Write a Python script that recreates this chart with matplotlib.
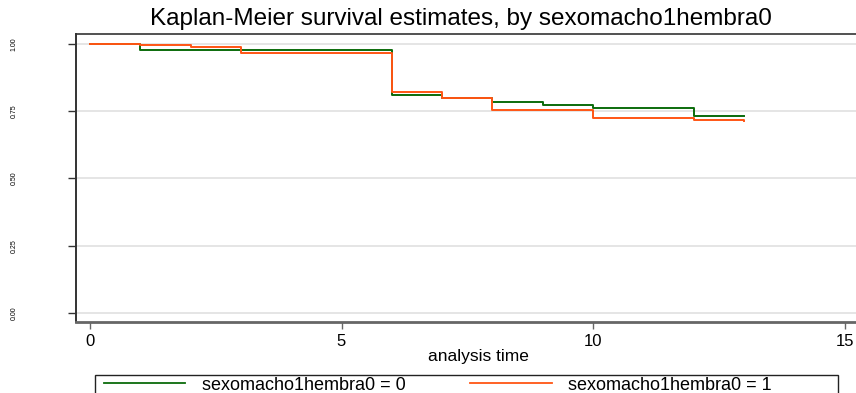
import matplotlib
matplotlib.use("Agg")
import matplotlib.pyplot as plt
from matplotlib.lines import Line2D
from matplotlib.patches import Rectangle

plt.rcParams['font.family'] = ['Liberation Sans', 'DejaVu Sans']

times_0 = [0, 1, 6, 7, 8, 9, 10, 12, 13]
surv_0 = [1.0, 0.978, 0.810, 0.800, 0.786, 0.773, 0.761, 0.734, 0.734]
times_1 = [0, 1, 2, 3, 6, 7, 8, 10, 12, 13]
surv_1 = [1.0, 0.995, 0.989, 0.965, 0.822, 0.800, 0.755, 0.724, 0.717, 0.712]
labels = ["sexomacho1hembra0 = 0", "sexomacho1hembra0 = 1"]
xticks = [0, 5, 10, 15]
yticks = [0.0, 0.25, 0.5, 0.75, 1.0]
yticklabels = ["0.00", "0.25", "0.50", "0.75", "1.00"]

c0 = '#0b6b0b'
c1 = '#ff5514'

W, H = 856, 393
fig = plt.figure(figsize=(W/100, H/100), dpi=100)
right_px = 880
ax = fig.add_axes([76/W, 71/H, (right_px - 76)/W, (322-34)/H])

for y in yticks:
    ax.axhline(y, color='#e0e0e0', lw=1.2, zorder=0)

ax.step(times_0, surv_0, where='post', color=c0, lw=1.4, zorder=3)
ax.step(times_1, surv_1, where='post', color=c1, lw=1.4, zorder=4)

ax.set_xlim(-14/50.3, (right_px-90)/50.3)
ax.set_ylim(-9/269, 1 + 10/269)
ax.set_xticks(xticks)
ax.set_xticklabels([str(t) for t in xticks], fontsize=12)
ax.set_yticks(yticks)
ax.set_yticklabels(yticklabels, rotation=90, fontsize=5, va='center')
ax.tick_params(axis='y', length=6, width=1, color='#333333', pad=36)
ax.tick_params(axis='x', length=5, width=1, color='#666666', pad=4)
ax.spines['right'].set_visible(False)
ax.spines['top'].set_color('#333333')
ax.spines['left'].set_color('#333333')
ax.spines['bottom'].set_color('#666666')
ax.spines['top'].set_linewidth(1.2)
ax.spines['left'].set_linewidth(1.4)
ax.spines['bottom'].set_linewidth(2)
ax.set_xlabel("analysis time", fontsize=12.5, labelpad=0)

fig.text(461/W, 1 - 18.5/H, "Kaplan-Meier survival estimates, by sexomacho1hembra0",
         ha='center', va='center', fontsize=17.5)

# legend frame
fig.patches.append(Rectangle((95/W, -0.05), (838-95)/W, 0.05 + 1 - 375/H,
                             transform=fig.transFigure, fill=False,
                             edgecolor='#222222', lw=1.0))

handles = [Line2D([], [], color=c0, lw=1.3), Line2D([], [], color=c1, lw=1.3)]
leg = fig.legend(handles, labels, loc='center left', ncol=2,
                 bbox_to_anchor=(104/W, 1 - 385/H),
                 fontsize=13, frameon=False, handlelength=4.5,
                 handletextpad=0.9, columnspacing=3.6,
                 borderaxespad=0, borderpad=0)

fig.savefig("out.png", dpi=100)
